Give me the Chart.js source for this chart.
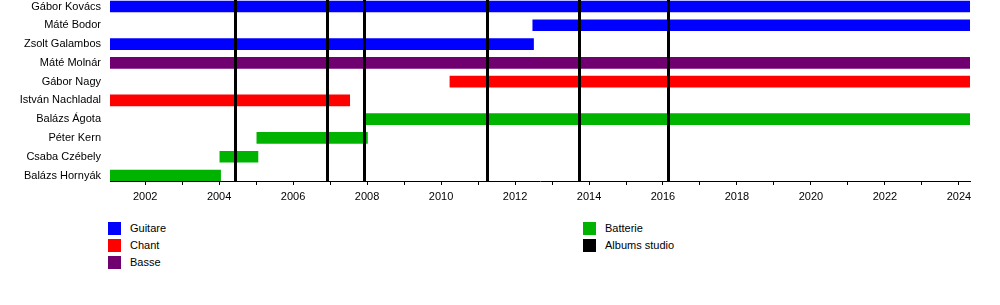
<!DOCTYPE html>
<html>
<head>
<meta charset="utf-8">
<script src="https://cdn.jsdelivr.net/npm/chart.js@4.4.1/dist/chart.umd.min.js"></script>
<style>
  html, body { margin: 0; padding: 0; background: #fff; }
  #wrap { position: relative; width: 1000px; height: 305px; }
  #c { position: absolute; left: 0; top: 0; }
  .lg { position: absolute; font: 11px "Liberation Sans", Arial, sans-serif; color: #000; }
  .sw { position: absolute; width: 13px; height: 13px; }
</style>
</head>
<body>
<div id="wrap">
  <canvas id="c" width="1000" height="210"></canvas>
  <div id="legend"></div>
</div>
<script>
const members = ["Gábor Kovács", "Máté Bodor", "Zsolt Galambos", "Máté Molnár", "Gábor Nagy",
  "István Nachladal", "Balázs Ágota", "Péter Kern", "Csaba Czébely", "Balázs Hornyák"];

const timelineStart = 2001.05;
const timelineEnd = 2024.3;

// [row index, start, end]
const guitare = [[0, 2001.05, 2024.3], [1, 2012.48, 2024.3], [2, 2001.05, 2012.5]];
const chant = [[4, 2010.24, 2024.3], [5, 2001.05, 2007.53]];
const basse = [[3, 2001.05, 2024.3]];
const batterie = [[6, 2007.98, 2024.3], [7, 2005.02, 2008.01], [8, 2004.02, 2005.05], [9, 2001.05, 2004.04]];
const albums = [2004.42, 2006.92, 2007.92, 2011.25, 2013.72, 2016.14];

const roleNames = ["Guitare", "Chant", "Basse", "Batterie", "Albums studio"];
const roleColors = ["#0000ff", "#ff0000", "#700070", "#00b300", "#000000"];

const toPoints = arr => arr.map(([r, s, e]) => ({ y: r, x: [s, e] }));

const albumPlugin = {
  id: 'albums',
  afterDatasetsDraw(chart) {
    const { ctx, chartArea, scales } = chart;
    ctx.save();
    ctx.strokeStyle = '#000';
    ctx.lineWidth = 3;
    albums.forEach(v => {
      const x = Math.round(scales.x.getPixelForValue(v)) + 0.5;
      ctx.beginPath();
      ctx.moveTo(x, chartArea.top);
      ctx.lineTo(x, chartArea.bottom);
      ctx.stroke();
    });
    ctx.restore();
  }
};

Chart.defaults.font.family = '"Liberation Sans", Arial, sans-serif';
Chart.defaults.font.size = 11;
Chart.defaults.color = '#000';

const mk = (label, data, color) => ({
  label, data: toPoints(data), backgroundColor: color, borderWidth: 0,
  barThickness: 11, grouped: false
});

new Chart(document.getElementById('c'), {
  type: 'bar',
  data: {
    datasets: [
      mk(roleNames[0], guitare, roleColors[0]),
      mk(roleNames[1], chant, roleColors[1]),
      mk(roleNames[2], basse, roleColors[2]),
      mk(roleNames[3], batterie, roleColors[3])
    ]
  },
  options: {
    indexAxis: 'y',
    responsive: false,
    animation: false,
    layout: { padding: { left: 0, right: 30, top: 0, bottom: 0 } },
    plugins: { legend: { display: false }, tooltip: { enabled: false } },
    scales: {
      y: {
        type: 'linear',
        reverse: true,
        offset: false,
        min: -0.346,
        max: 9.293,
        grid: { display: false, drawTicks: false, offset: false },
        border: { display: false },
        afterBuildTicks: s => { s.ticks = members.map((_, i) => ({ value: i })); },
        ticks: { autoSkip: false, padding: 9, callback: v => members[v] ?? '' },
        afterFit: s => { s.width = 110; s.paddingTop = 0; s.paddingBottom = 0; }
      },
      x: {
        type: 'linear',
        offset: false,
        min: timelineStart,
        max: timelineEnd,
        grid: { display: true, drawOnChartArea: false, drawTicks: true, tickLength: 4, color: '#000' },
        border: { display: true, color: '#000', width: 1 },
        afterBuildTicks: s => {
          const t = [];
          for (let y = 2002; y <= 2024; y++) t.push({ value: y });
          s.ticks = t;
        },
        ticks: { autoSkip: false, maxRotation: 0, padding: 5, callback: v => (v % 2 === 0 ? String(v) : '') },
        afterFit: s => { s.height = 29; s.paddingLeft = 0; s.paddingRight = 0; }
      }
    }
  },
  plugins: [albumPlugin]
});

// Legend
const legendPos = [
  { sx: 108, tx: 130, y: 222 }, { sx: 108, tx: 130, y: 239 }, { sx: 108, tx: 130, y: 256 },
  { sx: 583, tx: 605, y: 222 }, { sx: 583, tx: 605, y: 239 }
];
const lg = document.getElementById('legend');
roleNames.forEach((name, i) => {
  const p = legendPos[i];
  const sw = document.createElement('div');
  sw.className = 'sw';
  sw.style.left = p.sx + 'px'; sw.style.top = p.y + 'px'; sw.style.background = roleColors[i];
  lg.appendChild(sw);
  const t = document.createElement('div');
  t.className = 'lg';
  t.style.left = p.tx + 'px'; t.style.top = p.y + 'px'; t.style.lineHeight = '13px';
  t.textContent = name;
  lg.appendChild(t);
});
</script>
</body>
</html>
